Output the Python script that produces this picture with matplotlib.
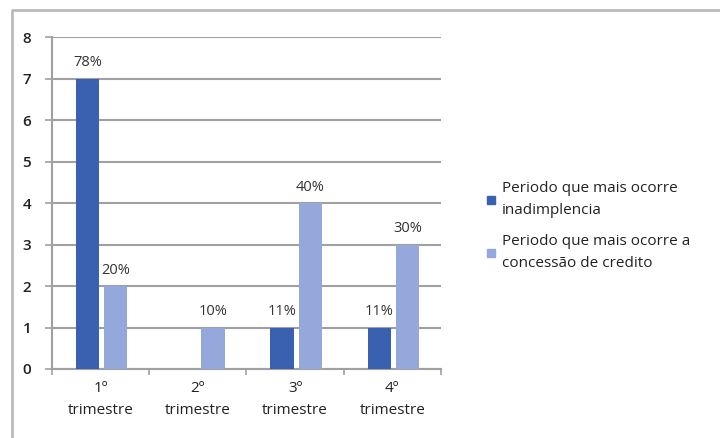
import matplotlib.pyplot as plt
import numpy as np
from matplotlib.lines import Line2D

categorias = ['1º\ntrimestre', '2º\ntrimestre', '3º\ntrimestre', '4º\ntrimestre']
inadimplencia = [7, 0, 1, 1]
credito = [2, 1, 4, 3]
rot_inad = ['78%', '', '11%', '11%']
rot_cred = ['20%', '10%', '40%', '30%']
series = ['Periodo que mais ocorre\ninadimplencia',
          'Periodo que mais ocorre a\nconcessão de credito']
cor_escura = '#3A60B0'
cor_clara = '#94A8DC'

plt.rcParams['font.family'] = ['Open Sans', 'DejaVu Sans']

fig = plt.figure(figsize=(7.2, 4.38), dpi=100)
ax = fig.add_axes([52/720, 1 - 369/438, (441 - 52)/720, (369 - 37)/438])

x = np.arange(len(categorias))
w = 0.24
b1 = ax.bar(x - 0.135, inadimplencia, w, color=cor_escura, zorder=3)
b2 = ax.bar(x + 0.155, credito, w, color=cor_clara, zorder=3)

for rect, txt in zip(b1, rot_inad):
    if txt:
        ax.text(rect.get_x() + rect.get_width()/2, rect.get_height() + 0.2, txt,
                ha='center', va='bottom', fontsize=10.5, color='#333333')
for rect, txt in zip(b2, rot_cred):
    ax.text(rect.get_x() + rect.get_width()/2, rect.get_height() + 0.2, txt,
            ha='center', va='bottom', fontsize=10.5, color='#333333')

ax.set_xlim(-0.5, 3.5)
ax.set_ylim(0, 8)
ax.set_yticks(range(9))
ax.yaxis.grid(True, color='#a0a0a0', linewidth=1.5, zorder=0)
ax.set_xticks(np.arange(-0.5, 4, 1))
ax.set_xticklabels([])
ax.set_xticks(x, minor=True)
ax.set_xticklabels(categorias, minor=True, fontsize=11, color='#222222',
                   linespacing=1.6)
ax.tick_params(axis='x', which='minor', length=0, pad=9)
ax.tick_params(axis='x', which='major', length=4, width=1.2, color='#a0a0a0')
ax.tick_params(axis='y', length=5, width=1.2, color='#a0a0a0', labelsize=11,
               labelcolor='#222222', pad=10)
for lab in ax.get_yticklabels():
    lab.set_fontweight('semibold')
for s in ['top', 'right']:
    ax.spines[s].set_visible(False)
for s in ['left', 'bottom']:
    ax.spines[s].set_color('#a0a0a0')
    ax.spines[s].set_linewidth(1.5)

handles = [Line2D([], [], marker='s', linestyle='', color=cor_escura, markersize=6),
           Line2D([], [], marker='s', linestyle='', color=cor_clara, markersize=6)]
leg = fig.legend(handles, series, loc='center left',
                 bbox_to_anchor=(470/720, 1 - 226/438),
                 frameon=False, fontsize=11, handletextpad=0.2, labelspacing=1.0,
                 handlelength=1.0)
for t in leg.get_texts():
    t.set_linespacing(1.7)
    t.set_color('#222222')

# moldura do grafico
fig.add_artist(Line2D([12/720, 12/720, 1], [0, 1 - 10/438, 1 - 10/438],
                      transform=fig.transFigure, color='#bbbbbb', linewidth=2))

fig.savefig('out.png', dpi=100)
